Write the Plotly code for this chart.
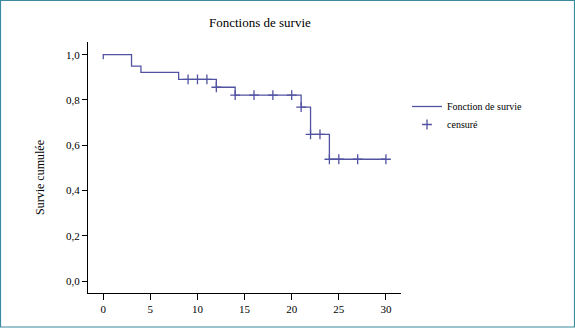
import plotly.graph_objects as go

# Survival function (step) data
step_time = [0, 0, 3, 4, 8, 12, 14, 21, 22, 24, 30]
step_surv = [0.980, 1.0, 0.949, 0.922, 0.891, 0.856, 0.821, 0.768, 0.648, 0.538, 0.538]

# Censored observations
cens_time = [9, 10, 11, 12, 14, 16, 18, 20, 21, 22, 23, 24, 25, 27, 30]
cens_surv = [0.891, 0.891, 0.891, 0.856, 0.821, 0.821, 0.821, 0.821, 0.768,
             0.648, 0.648, 0.538, 0.538, 0.538, 0.538]

x_ticks = [0, 5, 10, 15, 20, 25, 30]
y_ticks = [0.0, 0.2, 0.4, 0.6, 0.8, 1.0]
y_ticktext = ["0,0", "0,2", "0,4", "0,6", "0,8", "1,0"]

COLOR = "#5252A2"
FONT = "Liberation Serif, Times New Roman, serif"

W, H = 575, 328
L, R, T, B = 88, 401, 42, 293

def px2x(px):
    return (px - L) / (R - L)

def px2y(py):
    return (B - py) / (B - T)

fig = go.Figure()
fig.add_trace(go.Scatter(
    x=step_time, y=step_surv, mode="lines", line_shape="hv",
    line=dict(color=COLOR, width=1.3), name="Fonction de survie",
    hoverinfo="skip", legend="legend"))
fig.add_trace(go.Scatter(
    x=cens_time, y=cens_surv, mode="markers",
    marker=dict(symbol="cross-thin", size=7, line=dict(color=COLOR, width=1.3), color=COLOR),
    name="censuré", hoverinfo="skip", legend="legend2"))

leg_common = dict(xanchor="left", yanchor="middle",
                  font=dict(family=FONT, size=10, color="black"),
                  bgcolor="rgba(0,0,0,0)")
tickfont = dict(family=FONT, size=11, color="black")

fig.update_layout(
    width=W, height=H,
    margin=dict(l=L, r=W - R, t=T, b=H - B),
    paper_bgcolor="white", plot_bgcolor="white",
    font=dict(family=FONT, size=11, color="black"),
    showlegend=True,
    legend=dict(x=px2x(407), y=px2y(106.5), **leg_common),
    legend2=dict(x=px2x(407), y=px2y(124.5), **leg_common),
    xaxis=dict(range=[-1.62, 31.6], tickvals=x_ticks, ticktext=[str(v) for v in x_ticks],
               tickfont=tickfont,
               showline=True, linecolor="black", linewidth=1, ticks="outside",
               ticklen=6, tickcolor="black", showgrid=False, zeroline=False),
    yaxis=dict(range=[-0.053, 1.056], tickvals=y_ticks, ticktext=y_ticktext,
               tickfont=tickfont,
               showline=True, linecolor="black", linewidth=1, ticks="outside",
               ticklen=5, tickcolor="black", showgrid=False, zeroline=False),
    annotations=[
        dict(text="Fonctions de survie", xref="paper", yref="paper",
             x=px2x(260), y=px2y(22), xanchor="center", yanchor="middle",
             showarrow=False, font=dict(family=FONT, size=13, color="black")),
        dict(text="Survie cumulée", xref="paper", yref="paper",
             x=px2x(40), y=px2y(178), xanchor="center", yanchor="middle",
             textangle=-90, showarrow=False,
             font=dict(family=FONT, size=12, color="black")),
    ],
    shapes=[
        dict(type="rect", xref="paper", yref="paper",
             x0=px2x(0.5), x1=px2x(574.5), y0=px2y(0.5), y1=px2y(327),
             line=dict(color="#3A8AA0", width=1.2), layer="below"),
    ],
)

fig.write_html("out.html")
